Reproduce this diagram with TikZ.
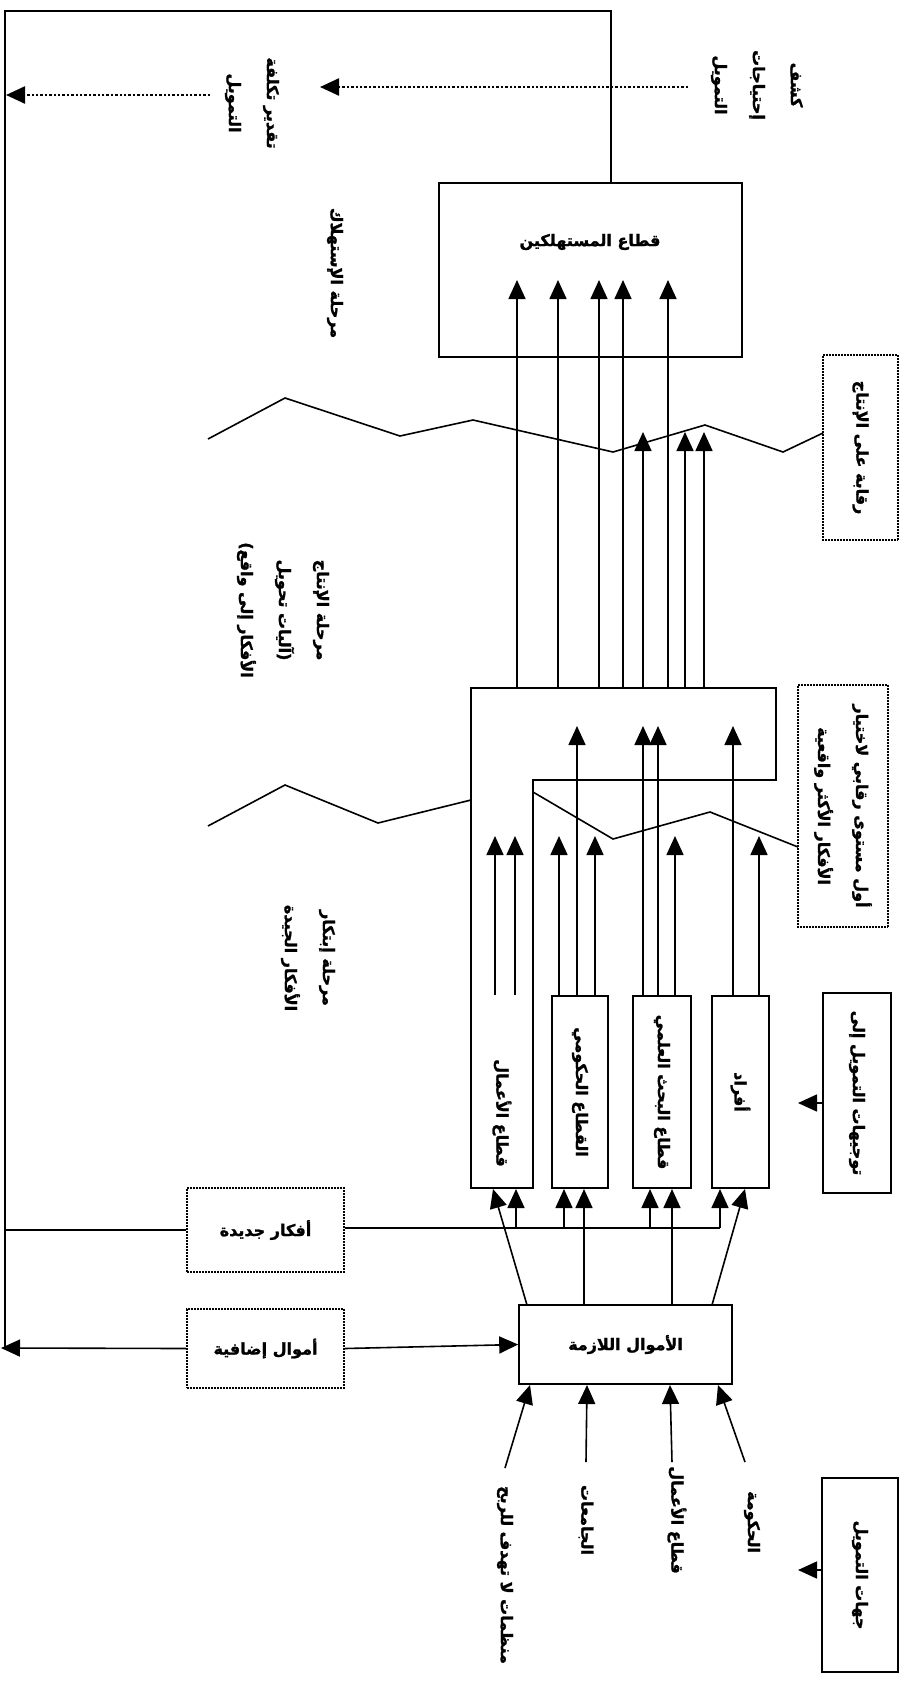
\documentclass[tikz,border=0pt]{standalone}
\usepackage{fontspec}
\newfontfamily\arabicfont[Script=Arabic,BoldFeatures={FakeBold=1.5}]{DejaVu Sans}
\TeXXeTstate=1
\usetikzlibrary{arrows.meta}
\newcommand{\ar}[1]{\beginR #1\endR}
\tikzset{
  lw/.style={line width=1.6pt},
  tip/.style={lw,-{Triangle[width=17pt,length=19pt]}},
  dtip/.style={line width=2.4pt,dotted,-{Triangle[width=17pt,length=19pt]}},
  txt/.style={font=\arabicfont\bfseries\fontsize{16}{38}\selectfont,align=center,inner sep=0pt},
  rtxt/.style={txt,rotate=-90},
  sbox/.style={draw,lw,txt,rotate=-90},
  dbox/.style={draw,line width=2pt,densely dotted,txt,rotate=-90},
  hbox/.style={draw,lw,txt},
  hdbox/.style={draw,line width=2pt,densely dotted,txt},
}
\begin{document}
\begin{tikzpicture}[x=1pt,y=-1pt]
\useasboundingbox (0,0) rectangle (900,1687);
% feedback frame
\draw[lw] (611,183) -- (611,11) -- (5,11) -- (5,1348);
% top dotted arrows
\node[rtxt] (kashf) at (757,85) {\ar{كشف}\\\ar{إحتياجات}\\\ar{التمويل}};
\node[rtxt] (taqdir) at (252,103) {\ar{تقدير تكلفة}\\\ar{التمويل}};
\coordinate (d1s) at (688,87);
\coordinate (d1e) at (320,87);
\coordinate (d2s) at (210,95);
\coordinate (d2e) at (6,95);
\draw[dtip] (d1s) -- (d1e);
\draw[dtip] (d2s) -- (d2e);
% consumers
\node[hbox,minimum width=303pt,minimum height=174pt] (cons) at (590.5,270) {};
\node[txt] (consT) at (590,242) {\ar{قطاع المستهلكين}};
\node[rtxt] (stIst) at (335,273) {\ar{مرحلة الإستهلاك}};
% upper zigzag
\draw[lw] (208,439) -- (285,398) -- (400,436) -- (473,420) -- (613,452) -- (705,425) -- (783,452) -- (823,433);
\node[dbox,minimum width=185pt,minimum height=75pt] (riq) at (860.5,447.5) {\ar{رقابة على الإنتاج}};
% arrows from production to consumers
\foreach \x in {517,558,599,623,668} \draw[tip] (\x,688) -- (\x,280);
\foreach \x in {643,685,704} \draw[tip] (\x,688) -- (\x,432);
\node[rtxt] (stInt) at (283,610) {\ar{مرحلة الإنتاج}\\\ar{(آليات تحويل}\\\ar{الأفكار إلى واقع)}};
% production L-shape
\draw[lw] (471,688) -- (776,688) -- (776,780) -- (533,780) -- (533,1188) -- (471,1188) -- cycle;
\node[rtxt] (busT) at (502,1113) {\ar{قطاع الأعمال}};
% lower zigzag
\draw[lw] (208,826) -- (285,785) -- (378,823) -- (471,800);
\draw[lw] (533,792) -- (613,839) -- (710,812) -- (798,847);
\node[dbox,minimum width=242pt,minimum height=90pt] (awwal) at (843,806) {\ar{أول مستوى رقابي لاختيار}\\\ar{الأفكار الأكثر واقعية}};
\node[rtxt] (stIbt) at (308,958) {\ar{مرحلة إبتكار}\\\ar{الأفكار الجيدة}};
% sector boxes
\node[sbox,minimum width=192pt,minimum height=56pt] (gov) at (580,1092) {\ar{القطاع الحكومي}};
\node[sbox,minimum width=192pt,minimum height=58pt] (res) at (662,1092) {\ar{قطاع البحث العلمي}};
\node[sbox,minimum width=192pt,minimum height=57pt] (ind) at (740.5,1092) {\ar{أفراد}};
% arrows up from sectors
\draw[tip] (495,995) -- (495,836);
\draw[tip] (515,995) -- (515,836);
\draw[tip] (559,996) -- (559,836);
\draw[tip] (577,996) -- (577,726);
\draw[tip] (595,996) -- (595,836);
\draw[tip] (643,996) -- (643,726);
\draw[tip] (658,996) -- (658,726);
\draw[tip] (675,996) -- (675,836);
\draw[tip] (733,996) -- (733,726);
\draw[tip] (759,996) -- (759,836);
% funding direction
\node[sbox,minimum width=200pt,minimum height=68pt] (tawj) at (857,1093) {\ar{توجيهات التمويل إلى}};
\coordinate (tawjE) at (798,1103);
\draw[tip] (823,1103) -- (tawjE);
% ideas and funds
\node[hdbox,minimum width=157pt,minimum height=84pt] (afkar) at (265.5,1230) {\ar{أفكار جديدة}};
\node[hdbox,minimum width=157pt,minimum height=79pt] (amwalI) at (265.5,1348.5) {\ar{أموال إضافية}};
\coordinate (corner) at (1,1348);
\draw[lw] (5,1230) -- (afkar.west);
\draw[tip] (amwalI.west) -- (corner);
\draw[lw] (afkar.east |- 0,1228) -- (720,1228);
\foreach \x in {516,564,650,720} \draw[tip] (\x,1228) -- (\x,1189);
\node[hbox,minimum width=213pt,minimum height=79pt] (amwal) at (625.5,1344.5) {\ar{الأموال اللازمة}};
\draw[tip] (amwalI.east) -- (amwal.west);
\draw[tip] (527,1305) -- (493,1189);
\draw[tip] (584,1305) -- (584,1189);
\draw[tip] (672,1305) -- (672,1189);
\draw[tip] (712,1305) -- (745,1189);
% sources
\node[rtxt] (s1) at (752,1522) {\ar{الحكومة}};
\node[rtxt] (s2) at (677,1520) {\ar{قطاع الأعمال}};
\node[rtxt] (s3) at (586,1520) {\ar{الجامعات}};
\node[rtxt] (s4) at (505,1575) {\ar{منظمات لا تهدف للربح}};
\draw[tip] (745,1462) -- (718,1385);
\draw[tip] (672,1462) -- (670,1385);
\draw[tip] (586,1462) -- (587,1385);
\draw[tip] (505,1468) -- (530,1385);
\node[sbox,minimum width=194pt,minimum height=76pt] (jihat) at (860,1575) {\ar{جهات التمويل}};
\coordinate (jihatE) at (798,1570);
\draw[tip] (822,1570) -- (jihatE);
\end{tikzpicture}
\end{document}
